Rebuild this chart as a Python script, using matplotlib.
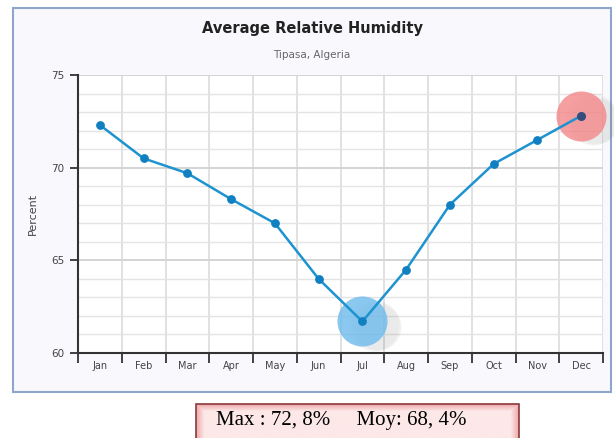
import numpy as np
import matplotlib.pyplot as plt
from matplotlib.patches import Rectangle

months = ["Jan", "Feb", "Mar", "Apr", "May", "Jun",
          "Jul", "Aug", "Sep", "Oct", "Nov", "Dec"]
humidity = [72.3, 70.5, 69.7, 68.3, 67.0, 64.0,
            61.7, 64.5, 68.0, 70.2, 71.5, 72.8]

W, H = 614, 438
fig = plt.figure(figsize=(W / 100, H / 100), dpi=100)
fig.patch.set_facecolor("white")

# outer chart frame
fig.patches.append(Rectangle((13 / W, 1 - 392 / H), (611 - 13) / W, (392 - 8) / H,
                             transform=fig.transFigure, facecolor="#f9f9fd",
                             edgecolor="#8ea6cc", lw=1.5, zorder=0))

ax = fig.add_axes([78 / W, 1 - 353 / H, (603 - 78) / W, (353 - 75) / H])
ax.set_zorder(2)
ax.set_facecolor("white")

x = np.arange(len(months))
y = np.array(humidity)

ax.set_xlim(-0.5, len(months) - 0.5)
ax.set_ylim(60, 75)

# grid: category boundaries, every unit, stronger every 5
for b in np.arange(-0.5, len(months), 1.0):
    ax.axvline(b, color="#dcdcdc", lw=1.2, zorder=1)
for v in range(60, 76):
    ax.axhline(v, color="#d4d4d4" if v % 5 == 0 else "#e4e4e4",
               lw=1.4 if v % 5 == 0 else 1.0, zorder=1)

ax.set_xticks(np.arange(-0.5, len(months), 1.0))
ax.set_xticklabels([])
ax.set_xticks(x, minor=True)
ax.set_xticklabels(months, minor=True, fontsize=7, color="#444444")
ax.tick_params(axis="x", which="major", length=7, width=1.3, color="#333333", direction="out")
ax.tick_params(axis="x", which="minor", length=0, pad=6)
ax.set_yticks([60, 65, 70, 75])
ax.tick_params(axis="y", length=6, width=1.3, color="#333333", labelsize=7.5,
               labelcolor="#444444", pad=4)

for s in ["top", "right"]:
    ax.spines[s].set_visible(False)
for s in ["left", "bottom"]:
    ax.spines[s].set_color("#333333")
    ax.spines[s].set_linewidth(1.5)

ax.set_ylabel("Percent", fontsize=8, color="#444444", labelpad=9)

# highlight min and max
imin, imax = int(np.argmin(y)), int(np.argmax(y))
for i, c in [(imin, "#6dbbec"), (imax, "#f3878a")]:
    for k in range(3):
        ax.scatter(x[i] + 0.25 + 0.05 * k, y[i] - 0.2 - 0.05 * k, s=1400 - 150 * k,
                   color="#555555", alpha=0.04, lw=0, zorder=2, clip_on=False)
    ax.scatter(x[i], y[i], s=1300, color=c, alpha=0.8, lw=0, zorder=3, clip_on=False)

ax.plot(x, y, color="#1d93cf", lw=1.8, zorder=4, clip_on=False)
ax.scatter(x, y, s=28, color="#1180c0", zorder=5, clip_on=False)
ax.scatter(x[imax], y[imax], s=28, color="#3a4a7a", zorder=6, clip_on=False)

fig.text(312 / W, 1 - 28 / H, "Average Relative Humidity", ha="center", va="center",
         fontsize=10.5, fontweight="bold", color="#222222")
fig.text(312 / W, 1 - 55 / H, "Tipasa, Algeria", ha="center", va="center",
         fontsize=7.5, color="#666666")

# summary box under the chart, pink with a soft bevel
bx = fig.add_axes([196 / W, 0, (519 - 196) / W, (438 - 404) / H])
bx.set_axis_off()
hh, ww = 40, 320
yy, xx = np.mgrid[0:hh, 0:ww]
edge = np.minimum.reduce([xx, ww - 1 - xx, yy])
t = np.clip(edge / 8.0, 0, 1)[..., None]
inner = np.array([253, 232, 232]) / 255
outer = np.array([238, 170, 172]) / 255
bx.imshow(outer + (inner - outer) * t, aspect="auto", extent=(0, 1, 0, 1))
bx.set_xlim(0, 1)
bx.set_ylim(0, 1)
fig.patches.append(Rectangle((196 / W, -0.05), (519 - 196) / W, (438 - 404) / H + 0.05,
                             transform=fig.transFigure, facecolor="none",
                             edgecolor="#8a3a3c", lw=1.2, zorder=5))
mx = f"{y.max():.1f}".replace(".", ", ")
moy = f"{y.mean():.1f}".replace(".", ", ")
fig.text(341 / W, 1 - 421 / H, f"Max : {mx}%     Moy: {moy}%", ha="center", va="center",
         fontsize=15, family="Liberation Serif", color="black", zorder=6)

fig.savefig("out.png", dpi=100)
